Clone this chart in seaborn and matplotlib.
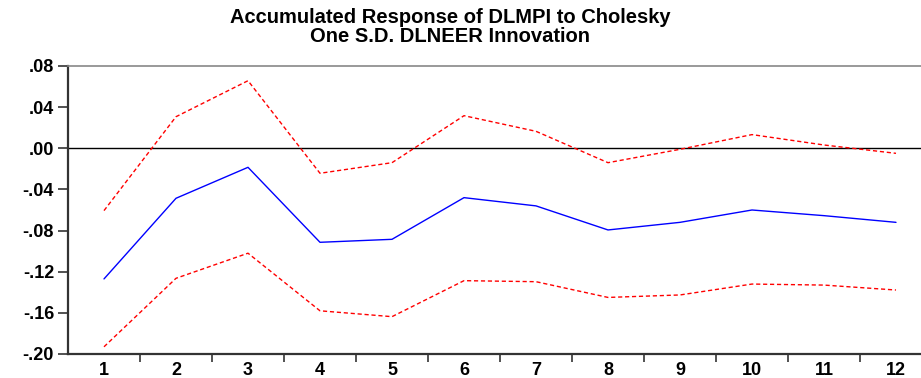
import pandas as pd
import matplotlib
matplotlib.use('Agg')
import matplotlib.pyplot as plt
import seaborn as sns

# Accumulated impulse response and +/- 2 S.E. bands
periods = list(range(1, 13))
response = [-0.127, -0.0486, -0.0185, -0.0914, -0.0885, -0.048,
            -0.056, -0.0794, -0.072, -0.060, -0.0655, -0.072]
upper_band = [-0.0606, 0.0307, 0.0657, -0.0243, -0.014, 0.0317,
              0.0165, -0.014, -0.001, 0.0133, 0.0032, -0.0049]
lower_band = [-0.193, -0.1264, -0.102, -0.158, -0.1637, -0.1287,
              -0.1297, -0.145, -0.1426, -0.132, -0.133, -0.1378]
ytick_vals = [0.08, 0.04, 0.00, -0.04, -0.08, -0.12, -0.16, -0.20]
ytick_labels = ['.08', '.04', '.00', '-.04', '-.08', '-.12', '-.16', '-.20']

df = pd.DataFrame({'period': periods, 'response': response,
                   'upper': upper_band, 'lower': lower_band})

sns.set_style('white')
plt.rcParams['font.family'] = ['Liberation Sans', 'DejaVu Sans']

fig = plt.figure(figsize=(9.21, 3.78), dpi=100)
ax = fig.add_axes([68 / 921, 24 / 378, 864 / 921, 288 / 378])

ax.axhline(0, color='black', lw=1.0, zorder=1)
sns.lineplot(data=df, x='period', y='response', ax=ax, color='#0000ff', lw=1.0)
sns.lineplot(data=df, x='period', y='upper', ax=ax, color='#ff0000', lw=1.0,
             linestyle=(0, (3, 2)))
sns.lineplot(data=df, x='period', y='lower', ax=ax, color='#ff0000', lw=1.0,
             linestyle=(0, (3, 2)))

ax.set_xlim(0.5, 12.5)
ax.set_ylim(-0.20, 0.08)
ax.set_xlabel('')
ax.set_ylabel('')

# category labels centred, tick marks between categories
ax.set_xticks([p + 0.5 for p in periods[:-1]])
ax.set_xticklabels([])
ax.set_xticks(periods, minor=True)
ax.set_xticklabels([str(p) for p in periods], minor=True,
                   fontsize=13, fontweight='bold', color='black')
ax.tick_params(axis='x', which='major', direction='out', length=6, width=1.2,
               bottom=True, color='#333333')
ax.tick_params(axis='x', which='minor', length=0, pad=6)

ax.set_yticks(ytick_vals)
ax.set_yticklabels(ytick_labels, fontsize=13, fontweight='bold', color='black')
ax.tick_params(axis='y', direction='out', length=7, width=1.2, left=True,
               color='#333333', pad=3)

for side in ['left', 'bottom']:
    ax.spines[side].set_color('#333333')
    ax.spines[side].set_linewidth(1.6)
ax.spines['top'].set_color('#888888')
ax.spines['top'].set_linewidth(1.2)
ax.spines['right'].set_visible(False)

fig.text(450 / 921, 1 - 27 / 378,
         'Accumulated Response of DLMPI to Cholesky\nOne S.D. DLNEER Innovation',
         ha='center', va='center', fontsize=14.5, fontweight='bold',
         linespacing=0.95, color='black')

fig.savefig('out.png', dpi=100)
